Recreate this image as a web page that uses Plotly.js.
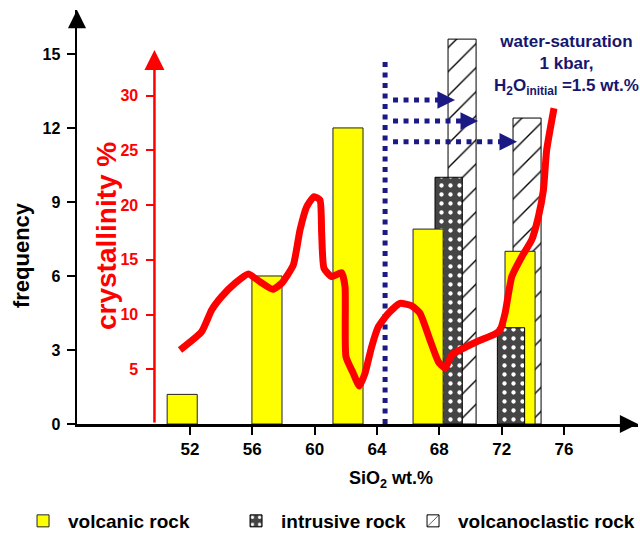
<!DOCTYPE html>
<html>
<head>
<meta charset="utf-8">
<script src="https://cdn.plot.ly/plotly-3.0.1.min.js"></script>
<style>
  html, body { margin: 0; padding: 0; background: #ffffff; }
  #chart { width: 640px; height: 533px; }
</style>
</head>
<body>
<div id="chart"></div>
<script>
// ---- data ----
const volcanicSiO2 = [51.5, 56.94, 62.14, 67.28, 73.18];
const volcanicFreq = [1.2, 6, 12, 7.9, 7];
const intrusiveSiO2 = [68.6, 72.6];
const intrusiveFreq = [10, 3.9];
const volcanoclasticSiO2 = [69.46, 73.63];
const volcanoclasticFreq = [15.6, 12.4];

const crystSiO2 = [51.36, 52.75, 53.39, 54.03, 54.89, 55.74, 56.49, 57.31, 57.88, 58.63,
  59.06, 59.49, 59.96, 60.34, 60.45, 60.6, 61.09, 61.73, 61.95, 62.01,
  62.48, 62.87, 63.23, 63.66, 64.09, 64.73, 65.48, 66.23, 66.76, 67.40,
  67.94, 68.37, 68.80, 69.54, 70.40, 71.58, 71.90, 72.22, 72.65, 73.29,
  73.93, 74.36, 74.68, 74.89, 75.36];
const crystallinity = [6.76, 8.44, 10.42, 11.64, 12.86, 13.71, 13.0, 12.31, 12.86, 14.53,
  17.73, 19.86, 20.78, 20.48, 17.43, 14.23, 13.47, 13.83, 12.55, 6.15,
  4.63, 3.47, 4.63, 7.07, 8.89, 10.12, 11.03, 10.79, 10.12, 7.68,
  5.69, 5.09, 6.31, 6.92, 7.52, 8.23, 8.59, 10.12, 13.47, 15.29,
  16.82, 18.95, 21.39, 25.05, 28.86];

const sio2Ticks = [52, 56, 60, 64, 68, 72, 76];
const freqTicks = [0, 3, 6, 9, 12, 15];
const crystTicks = [5, 10, 15, 20, 25, 30];

const saturationSiO2 = 64.52;      // dotted vertical line
const saturationTopFreq = 14.75;
const arrowFreq = [13.13, 12.28, 11.44];
const arrowStartSiO2 = 65.03;
const arrowTipSiO2 = [69.01, 70.49, 72.99];

const labels = {
  volcanic: 'volcanic rock',
  intrusive: 'intrusive rock',
  volcanoclastic: 'volcanoclastic rock',
  xTitle: 'SiO<sub>2</sub> wt.%',
  yTitle: 'frequency',
  y2Title: 'crystallinity %',
  note: 'water-saturation<br>1 kbar,<br>H<sub>2</sub>O<sub>initial</sub> =1.5 wt.%'
};

// ---- styling ----
const FONT = 'Liberation Sans, Arial, Helvetica, sans-serif';
const NAVY = '#17166e';
const NAVY_LINE = '#1b1a85';
const RED = '#ff0000';

const xRange = [44.75, 80.75];
const yRange = [0, 16.78];
const y2Range = [0, 37.84];

const pick = (arr, idx) => idx.map(i => arr[i]);

const intrusiveMarker = { color: '#454545', line: { color: '#000000', width: 1 },
  pattern: { shape: '.', fgcolor: '#ffffff', bgcolor: '#454545', size: 9, solidity: 0.18 } };

const traces = [
  {
    type: 'bar', name: labels.volcanoclastic, legendrank: 3,
    x: volcanoclasticSiO2, y: volcanoclasticFreq, width: 1.8,
    marker: { color: '#ffffff', line: { color: '#000000', width: 1 },
      pattern: { shape: '/', fgcolor: '#000000', bgcolor: '#ffffff', size: 17, solidity: 0.08 } },
    opacity: 1, legendwidth: 180, hoverinfo: 'skip'
  },
  {
    type: 'bar', name: labels.intrusive, legendrank: 2, legendgroup: 'intr',
    x: pick(intrusiveSiO2, [0]), y: pick(intrusiveFreq, [0]), width: 1.75,
    marker: intrusiveMarker, opacity: 1, legendwidth: 122, hoverinfo: 'skip'
  },
  {
    type: 'bar', name: labels.volcanic, legendrank: 1,
    x: volcanicSiO2, y: volcanicFreq, width: 1.93,
    marker: { color: '#ffff00', line: { color: '#222222', width: 1 } },
    opacity: 1, legendwidth: 158, hoverinfo: 'skip'
  },
  {
    type: 'bar', name: labels.intrusive, legendgroup: 'intr', showlegend: false,
    x: pick(intrusiveSiO2, [1]), y: pick(intrusiveFreq, [1]), width: 1.75,
    marker: intrusiveMarker, opacity: 1, hoverinfo: 'skip'
  },
  {
    type: 'scatter', mode: 'lines', showlegend: false, hoverinfo: 'skip',
    x: [saturationSiO2, saturationSiO2], y: [0, saturationTopFreq],
    line: { color: NAVY_LINE, width: 5, dash: '5px,5.5px' }
  }
];
arrowFreq.forEach((f, i) => {
  traces.push({
    type: 'scatter', mode: 'lines', showlegend: false, hoverinfo: 'skip',
    x: [arrowStartSiO2, arrowTipSiO2[i] - 0.6], y: [f, f],
    line: { color: NAVY_LINE, width: 5, dash: '5px,5.5px' }
  });
});
traces.push({
  type: 'scatter', mode: 'lines', yaxis: 'y2', showlegend: false, hoverinfo: 'skip',
  x: crystSiO2, y: crystallinity,
  line: { color: RED, width: 7, shape: 'spline', smoothing: 0.5 }
});

const annotations = [
  // black axis arrowheads
  { xref: 'paper', yref: 'paper', x: 0, y: 1, ax: 0, ay: 18, text: '', showarrow: true,
    arrowhead: 2, arrowsize: 1.45, arrowwidth: 2.5, arrowcolor: '#000000' },
  { xref: 'paper', yref: 'paper', x: 1, y: 0, ax: -18, ay: 0, text: '', showarrow: true,
    arrowhead: 2, arrowsize: 1.45, arrowwidth: 2.5, arrowcolor: '#000000' },
  // red crystallinity axis with arrow
  { xref: 'x', yref: 'y2', axref: 'x', ayref: 'y2', x: 49.72, y: 34.19, ax: 49.72, ay: 0,
    text: '', showarrow: true, arrowhead: 2, arrowsize: 1.6, arrowwidth: 2.5, arrowcolor: RED },
  // titles
  { xref: 'paper', yref: 'paper', x: -0.0998, y: 0.408, xanchor: 'center', yanchor: 'middle',
    text: labels.yTitle, textangle: -90,
    showarrow: false, font: { family: FONT, size: 22, color: '#000000', weight: 'bold' } },
  { xref: 'paper', yref: 'paper', x: 0.0517, y: 0.454, xanchor: 'center', yanchor: 'middle',
    text: labels.y2Title, textangle: -90,
    showarrow: false, font: { family: FONT, size: 28, color: RED, weight: 'bold' } },
  { xref: 'paper', yref: 'paper', x: 0.5597, y: -0.1329, xanchor: 'center', yanchor: 'middle',
    text: labels.xTitle,
    showarrow: false, font: { family: FONT, size: 18, color: '#000000', weight: 'bold' } },
  { xref: 'paper', yref: 'paper', x: 0.8734, y: 0.8671, xanchor: 'center', yanchor: 'middle',
    text: labels.note, align: 'center',
    showarrow: false, font: { family: FONT, size: 17, color: NAVY, weight: 'bold' } }
];
arrowFreq.forEach((f, i) => {
  annotations.push({ xref: 'x', yref: 'y', x: arrowTipSiO2[i], y: f, ax: -16, ay: 0, text: '',
    showarrow: true, arrowhead: 2, arrowsize: 1.1, arrowwidth: 3.2, arrowcolor: NAVY_LINE });
});

const layout = {
  width: 640, height: 533,
  margin: { l: 77, r: 2, t: 10, b: 109, autoexpand: false },
  paper_bgcolor: '#ffffff', plot_bgcolor: '#ffffff',
  barmode: 'overlay',
  font: { family: FONT, color: '#000000' },
  showlegend: true,
  legend: {
    orientation: 'h', x: -0.1051, xanchor: 'left', y: -0.2343, yanchor: 'middle',
    font: { family: FONT, size: 19, color: '#000000', weight: 'bold' },
    itemwidth: 40, bgcolor: 'rgba(0,0,0,0)'
  },
  xaxis: {
    range: xRange, tickvals: sio2Ticks, showline: true, linecolor: '#000000', linewidth: 2.5,
    ticks: 'outside', ticklen: 8, tickwidth: 2, tickcolor: '#000000',
    showgrid: false, zeroline: false, automargin: false,
    tickfont: { family: FONT, size: 17, color: '#000000', weight: 'bold' }
  },
  yaxis: {
    range: yRange, tickvals: freqTicks, showline: true, linecolor: '#000000', linewidth: 2.5,
    ticks: 'outside', ticklen: 8, tickwidth: 2, tickcolor: '#000000',
    showgrid: false, zeroline: false, ticklabelstandoff: 3, automargin: false,
    tickfont: { family: FONT, size: 16, color: '#000000', weight: 'bold' }
  },
  yaxis2: {
    overlaying: 'y', anchor: 'free', position: 0.138, side: 'left',
    range: y2Range, tickvals: crystTicks, showline: false,
    ticks: 'outside', ticklen: 8, tickwidth: 2, tickcolor: RED,
    showgrid: false, zeroline: false, ticklabelstandoff: 5, automargin: false,
    tickfont: { family: FONT, size: 16, color: RED, weight: 'bold' }
  },
  annotations: annotations
};

Plotly.newPlot('chart', traces, layout, { displayModeBar: false, staticPlot: true });
</script>
</body>
</html>
